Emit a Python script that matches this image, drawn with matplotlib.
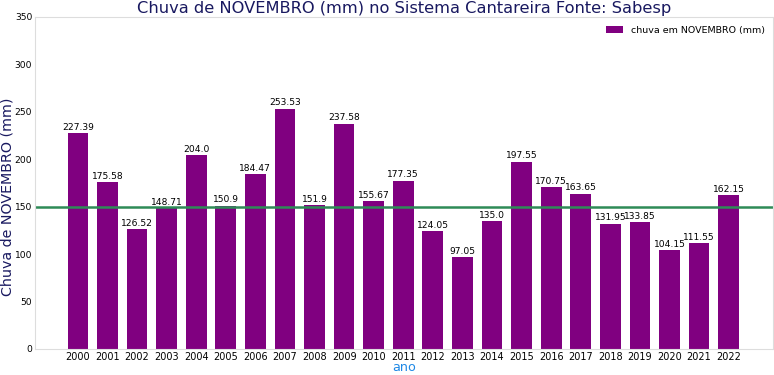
import matplotlib
matplotlib.use("Agg")
import matplotlib.pyplot as plt

anos = [2000, 2001, 2002, 2003, 2004, 2005, 2006, 2007, 2008, 2009, 2010, 2011,
        2012, 2013, 2014, 2015, 2016, 2017, 2018, 2019, 2020, 2021, 2022]
chuva = [227.39, 175.58, 126.52, 148.71, 204.0, 150.9, 184.47, 253.53, 151.9,
         237.58, 155.67, 177.35, 124.05, 97.05, 135.0, 197.55, 170.75, 163.65,
         131.95, 133.85, 104.15, 111.55, 162.15]
media = 150

fig = plt.figure(figsize=(7.74, 3.75), dpi=100)
ax = fig.add_axes([35/774, 26/375, 738/774, 332/375])
bars = ax.bar(anos, chuva, width=0.7, color="purple", label="chuva em NOVEMBRO (mm)")
ax.bar_label(bars, labels=[str(v) for v in chuva], fontsize=6.6, padding=1)
ax.axhline(media, color="#2e8b57", linewidth=1.8)
ax.set_xlim(1998.55, 2023.5)
ax.set_ylim(0, 350)
ax.set_xticks(anos)
ax.set_xticklabels([str(a) for a in anos], fontsize=7)
ax.tick_params(axis="y", labelsize=6.6, pad=2)
ax.tick_params(axis="x", pad=2)
ax.tick_params(length=0)
for s in ax.spines.values():
    s.set_color("#dddddd")
ax.set_title("Chuva de NOVEMBRO (mm) no Sistema Cantareira Fonte: Sabesp",
             fontsize=11.7, color="#191960", pad=3)
ax.set_ylabel("Chuva de NOVEMBRO (mm)", fontsize=10.3, color="#191960")
ax.yaxis.set_label_coords(-0.0275, 0.46)
ax.set_xlabel("ano", fontsize=9.2, color="#1e88e5")
ax.xaxis.set_label_coords(0.5, -0.036)
ax.legend(loc="upper right", frameon=False, fontsize=6.8, handlelength=1.8)
fig.savefig("out.png", dpi=100)
